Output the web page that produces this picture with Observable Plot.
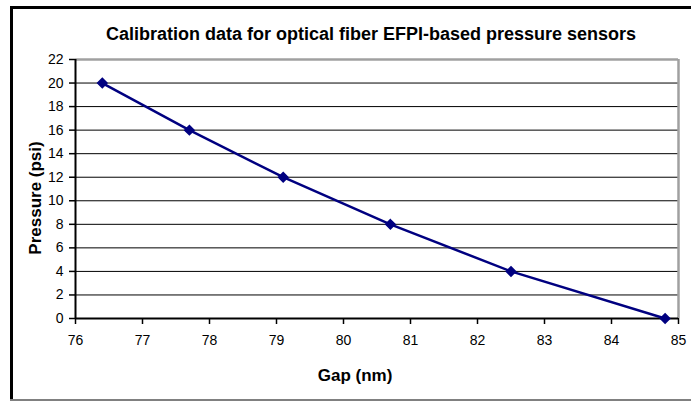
<!DOCTYPE html>
<html>
<head>
<meta charset="utf-8">
<script src="https://cdn.jsdelivr.net/npm/d3@7"></script>
<script src="https://cdn.jsdelivr.net/npm/@observablehq/plot@0.6"></script>
<style>
  html, body { margin: 0; padding: 0; background: #fff; overflow: hidden; }
  #wrap { position: relative; width: 691px; height: 402px; overflow: hidden; }
  .edge { position: absolute; pointer-events: none; }
  #top { left: 10px; top: 6px; width: 681px; height: 2.5px; background: #000; }
  #left { left: 10px; top: 6px; width: 2.5px; height: 394px; background: #000; }
  #bottom { left: 10px; top: 399px; width: 681px; height: 2px; background: #808080; }
  svg { display: block; }
</style>
</head>
<body>
<div id="wrap"><div class="edge" id="top"></div><div class="edge" id="left"></div><div class="edge" id="bottom"></div></div>
<script>
const title = "Calibration data for optical fiber EFPI-based pressure sensors";
const xLabel = "Gap (nm)";
const yLabel = "Pressure (psi)";
const gap = [76.4, 77.7, 79.1, 80.7, 82.5, 84.8];
const pressure = [20, 16, 12, 8, 4, 0];
const xTicks = [76, 77, 78, 79, 80, 81, 82, 83, 84, 85];
const yTicks = [0, 2, 4, 6, 8, 10, 12, 14, 16, 18, 20, 22];
const gridLines = [2, 4, 6, 8, 10, 12, 14, 16, 18, 20];

const data = gap.map((g, i) => ({gap: g, pressure: pressure[i]}));
const font = "'Liberation Sans', Arial, sans-serif";

const chart = Plot.plot({
  width: 691,
  height: 402,
  marginLeft: 75,
  marginRight: 13,
  marginTop: 59,
  marginBottom: 84,
  style: {fontFamily: font, fontSize: "14px", color: "#000", background: "transparent"},
  x: {domain: [76, 85]},
  y: {domain: [0, 22]},
  marks: [
    Plot.ruleY(gridLines, {stroke: "#000", strokeWidth: 1}),
    Plot.ruleY([22], {stroke: "#a0a0a0", strokeWidth: 2.5}),
    Plot.ruleX([85], {stroke: "#a0a0a0", strokeWidth: 2.5}),
    Plot.ruleX([76], {stroke: "#000", strokeWidth: 2}),
    Plot.ruleY([0], {stroke: "#000", strokeWidth: 2}),
    Plot.axisY({ticks: yTicks, tickSize: 6, tickPadding: 6, label: null, stroke: "#000", strokeWidth: 1.5, fontSize: 14}),
    Plot.axisX({ticks: xTicks, tickSize: 6, tickPadding: 11, label: null, stroke: "#000", strokeWidth: 1.5, fontSize: 14}),
    Plot.line(data, {x: "gap", y: "pressure", stroke: "#000080", strokeWidth: 2.5}),
    Plot.dot(data, {x: "gap", y: "pressure", symbol: "diamond2", r: 4.2, fill: "#000080", stroke: "#000080"}),
    Plot.text([title], {frameAnchor: "top", lineAnchor: "middle", textAnchor: "middle", dx: -6, dy: -25, fontWeight: "bold", fontSize: 18}),
    Plot.text([yLabel], {frameAnchor: "left", lineAnchor: "middle", textAnchor: "middle", rotate: -90, dx: -40, dy: 9, fontWeight: "bold", fontSize: 17}),
    Plot.text([xLabel], {frameAnchor: "bottom", lineAnchor: "middle", textAnchor: "middle", dx: -22, dy: 57, fontWeight: "bold", fontSize: 17})
  ]
});
document.getElementById("wrap").insertBefore(chart, document.getElementById("top"));
</script>
</body>
</html>
